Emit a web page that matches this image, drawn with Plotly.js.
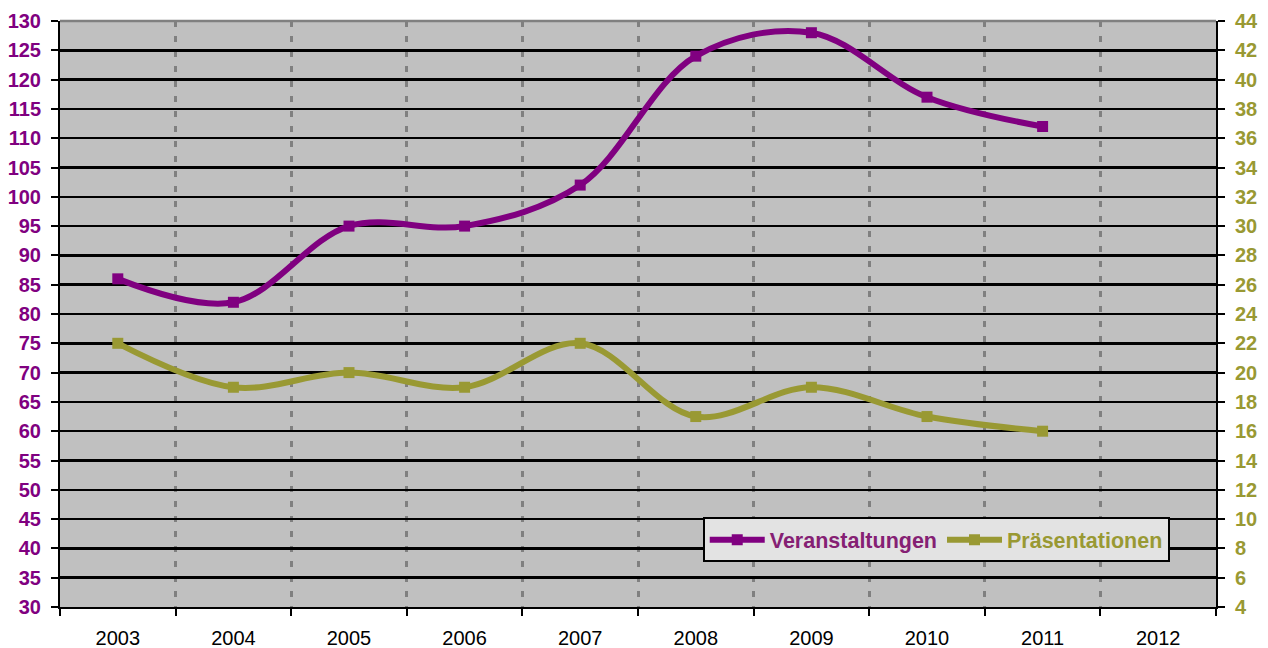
<!DOCTYPE html>
<html><head><meta charset="utf-8">
<script src="https://cdn.plot.ly/plotly-3.0.1.min.js"></script>
<style>html,body{margin:0;padding:0;background:#fff;}#chart{width:1268px;height:648px;}</style>
</head><body><div id="chart"></div>
<script>
const years = ['2003','2004','2005','2006','2007','2008','2009','2010','2011','2012'];
const veranstaltungen = [86, 82, 95, 95, 102, 124, 128, 117, 112, null];
const praesentationen = [22, 19, 20, 19, 22, 17, 19, 17, 16, null];
const leftTicks = [30,35,40,45,50,55,60,65,70,75,80,85,90,95,100,105,110,115,120,125,130];
const rightTicks = [4,6,8,10,12,14,16,18,20,22,24,26,28,30,32,34,36,38,40,42,44];

const purple = '#800080';
const olive = '#999933';

const traces = [
  {x: years, y: veranstaltungen, name: '<span style="color:#852073">Veranstaltungen</span>', type: 'scatter', mode: 'lines+markers',
   line: {color: purple, width: 6, shape: 'spline', smoothing: 1}, marker: {symbol: 'square', size: 11, color: purple},
   yaxis: 'y', connectgaps: false},
  {x: years, y: praesentationen, name: '<span style="color:#999933">Präsentationen</span>', type: 'scatter', mode: 'lines+markers',
   line: {color: olive, width: 6, shape: 'spline', smoothing: 1}, marker: {symbol: 'square', size: 11, color: olive},
   yaxis: 'y2', connectgaps: false}
];

const layout = {
  width: 1268, height: 648,
  margin: {l: 60, r: 52, t: 21, b: 41},
  paper_bgcolor: '#ffffff', plot_bgcolor: '#C0C0C0',
  font: {family: 'Arial, Liberation Sans, sans-serif', size: 20, color: '#000'},
  showlegend: true,
  legend: {orientation: 'h', x: 0.556, y: 0.153, xanchor: 'left', yanchor: 'top',
    bgcolor: '#E3E3E3', bordercolor: '#000', borderwidth: 2,
    font: {size: 21.5, weight: 'bold', family: 'Arial, Liberation Sans, sans-serif'}, itemwidth: 55, tracegroupgap: 0},
  xaxis: {type: 'category', categoryarray: years, range: [-0.5, 9.5], tickson: 'boundaries',
    showgrid: true, gridcolor: '#808080', griddash: '6px,9px', gridwidth: 3,
    showline: true, linecolor: '#000', linewidth: 2, ticks: 'outside', ticklen: 7, tickwidth: 2, tickcolor: '#000',
    tickfont: {size: 20, color: '#000'}, ticklabelstandoff: 12, zeroline: false, mirror: false},
  yaxis: {range: [30, 130], tickvals: leftTicks, showgrid: true, gridcolor: '#000', gridwidth: 2.5,
    showline: true, linecolor: '#000', linewidth: 2, ticks: 'outside', ticklen: 7, tickwidth: 2, tickcolor: '#000',
    tickfont: {size: 20, color: purple, weight: 'bold'}, ticklabelstandoff: 6, zeroline: false},
  yaxis2: {range: [4, 44], tickvals: rightTicks, overlaying: 'y', side: 'right', showgrid: false,
    showline: true, linecolor: '#000', linewidth: 2, ticks: 'outside', ticklen: 7, tickwidth: 2, tickcolor: '#000',
    tickfont: {size: 20, color: olive, weight: 'bold'}, ticklabelstandoff: 6, zeroline: false},
  shapes: [{type: 'line', xref: 'paper', yref: 'paper', x0: 0, x1: 1, y0: 1, y1: 1, line: {color: '#808080', width: 2.5}}]
};
Plotly.newPlot('chart', traces, layout, {displayModeBar: false, staticPlot: true});
</script></body></html>
